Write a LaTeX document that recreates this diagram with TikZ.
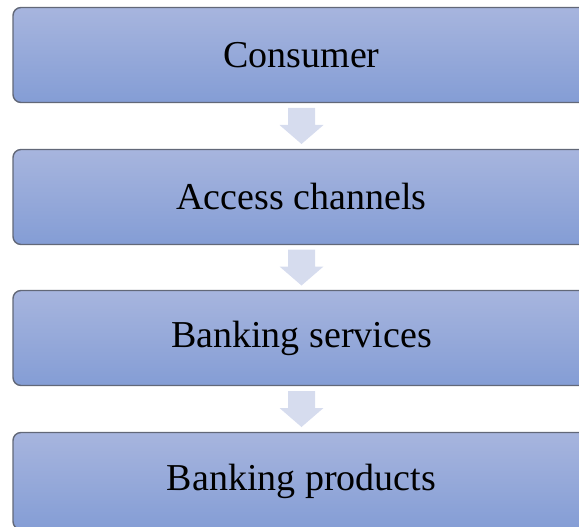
\documentclass[tikz,border=0pt]{standalone}
\usepackage{fontspec}
\setmainfont{Liberation Serif}
\usetikzlibrary{calc}
\definecolor{boxtop}{RGB}{167,181,222}
\definecolor{boxbot}{RGB}{132,157,213}
\definecolor{boxline}{RGB}{98,104,120}
\definecolor{arrowfill}{RGB}{214,220,238}
\begin{document}
\begin{tikzpicture}[
    x=1pt, y=-1pt,
    stage/.style={rectangle, draw=boxline, line width=1.4pt, rounded corners=8pt,
        top color=boxtop, bottom color=boxbot, minimum width=577pt,
        minimum height=95pt, inner sep=0pt, font=\fontsize{38}{42}\selectfont},
    flow/.style={fill=arrowfill, draw=none}
]
\clip (0,0) rectangle (579,527);

% Stages
\node[stage] (s1) at (301.5,55) {Consumer};
\node[stage] (s2) at (301.5,197) {Access channels};
\node[stage] (s3) at (301.5,338) {Banking services};
\node[stage, minimum height=97pt] (s4) at (301.5,481) {Banking products};

% Block arrows between stages
\foreach \a/\b in {1/2,2/3,3/4} {
    \coordinate (m\a) at ($(s\a.south)!0.5!(s\b.north)$);
    \fill[flow] ($(m\a)+(-13.5,-18)$) -- ($(m\a)+(13.5,-18)$) -- ($(m\a)+(13.5,-1)$)
        -- ($(m\a)+(22,-1)$) -- ($(m\a)+(0,18)$) -- ($(m\a)+(-22,-1)$)
        -- ($(m\a)+(-13.5,-1)$) -- cycle;
}

\end{tikzpicture}
\end{document}
